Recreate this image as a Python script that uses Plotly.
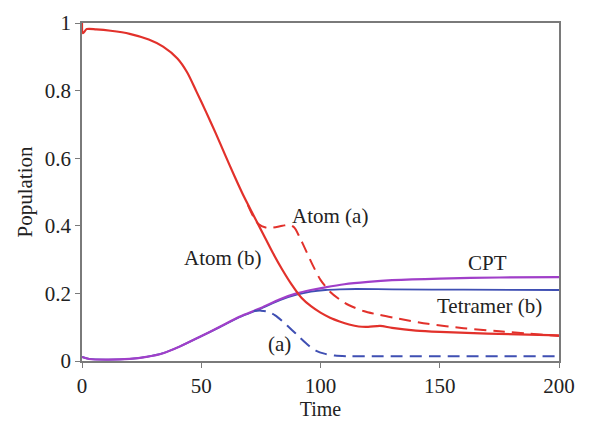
import plotly.graph_objects as go

# Atom (b) - red solid
t_atom_b = [0, 0.4, 2, 6, 12, 20, 28, 34, 40, 44, 48, 52, 56, 60, 64, 68, 72, 76, 80, 84, 88, 92, 96, 100, 104, 108, 112, 116, 120, 125, 130, 140, 150, 170, 200]
v_atom_b = [1.0, 0.97, 0.982, 0.981, 0.977, 0.968, 0.951, 0.93, 0.895, 0.855, 0.797, 0.737, 0.675, 0.61, 0.546, 0.485, 0.43, 0.375, 0.32, 0.27, 0.225, 0.187, 0.162, 0.143, 0.128, 0.117, 0.108, 0.102, 0.101, 0.104, 0.098, 0.09, 0.086, 0.081, 0.076]

# Atom (a) - red dashed
t_atom_a = [69.5, 72, 74, 77, 80, 84, 87, 89, 91, 94, 97, 100, 104, 108, 112, 118, 125, 133, 145, 160, 175, 200]
v_atom_a = [0.462, 0.425, 0.405, 0.395, 0.395, 0.40, 0.403, 0.395, 0.37, 0.325, 0.28, 0.24, 0.205, 0.182, 0.165, 0.148, 0.136, 0.125, 0.11, 0.097, 0.088, 0.074]

# CPT - purple
t_cpt = [0, 3, 10, 20, 27, 34, 41, 49, 58, 66, 75, 83, 90, 96, 102, 110, 120, 130, 150, 175, 200]
v_cpt = [0.012, 0.006, 0.004, 0.006, 0.012, 0.023, 0.043, 0.07, 0.102, 0.131, 0.157, 0.183, 0.2, 0.21, 0.218, 0.227, 0.234, 0.239, 0.244, 0.247, 0.248]

# Tetramer (b) - blue solid
t_tet_b = [0, 3, 10, 20, 27, 34, 41, 49, 58, 66, 75, 83, 90, 96, 102, 108, 115, 130, 160, 200]
v_tet_b = [0.012, 0.006, 0.004, 0.006, 0.012, 0.023, 0.043, 0.07, 0.101, 0.13, 0.155, 0.18, 0.196, 0.205, 0.21, 0.212, 0.213, 0.212, 0.211, 0.21]

# Tetramer (a) - blue dashed
t_tet_a = [72, 75, 78, 81, 84, 88, 91, 95, 98, 102, 106, 112, 125, 150, 200]
v_tet_a = [0.148, 0.149, 0.146, 0.135, 0.118, 0.092, 0.072, 0.046, 0.031, 0.021, 0.016, 0.014, 0.014, 0.014, 0.014]

x_ticks = [0, 50, 100, 150, 200]
y_ticks = [0, 0.2, 0.4, 0.6, 0.8, 1]
y_tick_labels = ["0", "0.2", "0.4", "0.6", "0.8", "1"]

labels = ["Atom (a)", "Atom (b)", "CPT", "Tetramer (b)", "(a)"]
label_x = [104, 59, 170, 171, 83]
label_y = [0.43, 0.305, 0.29, 0.163, 0.05]

RED = "#e2312b"
BLUE = "#3f4fb3"
PURPLE = "#a03fc9"
FONT = "Liberation Serif"
TXT = "#222222"

fig = go.Figure()
fig.add_trace(go.Scatter(x=t_tet_b, y=v_tet_b, mode="lines", line=dict(color=BLUE, width=1.8, shape="spline", smoothing=0.8), cliponaxis=False))
fig.add_trace(go.Scatter(x=t_cpt, y=v_cpt, mode="lines", line=dict(color=PURPLE, width=2.2, shape="spline", smoothing=0.8), cliponaxis=False))
fig.add_trace(go.Scatter(x=t_tet_a, y=v_tet_a, mode="lines", line=dict(color=BLUE, width=2, dash="12px,7px", shape="spline", smoothing=0.8)))
fig.add_trace(go.Scatter(x=t_atom_a, y=v_atom_a, mode="lines", line=dict(color=RED, width=2, dash="12px,7px", shape="spline", smoothing=0.8)))
fig.add_trace(go.Scatter(x=t_atom_b, y=v_atom_b, mode="lines", line=dict(color=RED, width=2.2, shape="spline", smoothing=0.8), cliponaxis=False))

for txt, lx, ly in zip(labels, label_x, label_y):
    fig.add_annotation(x=lx, y=ly, text=txt, showarrow=False, xanchor="center", yanchor="middle",
                       font=dict(family=FONT, size=21, color=TXT))

axis_common = dict(showgrid=False, zeroline=False, showline=True, linecolor="#7a7a7a", linewidth=1.5,
                   mirror=True, ticks="outside", ticklen=5, tickwidth=1.2, tickcolor="#7a7a7a",
                   tickfont=dict(family=FONT, size=21, color=TXT))

fig.update_xaxes(range=[0, 200], tickvals=x_ticks, title=dict(text="Time", standoff=2,
                 font=dict(family=FONT, size=20, color=TXT)), **axis_common)
fig.update_yaxes(range=[0, 1], tickvals=y_ticks, ticktext=y_tick_labels, title=dict(text="Population", standoff=6,
                 font=dict(family=FONT, size=21, color=TXT)), **axis_common)

fig.update_layout(width=596, height=425, margin=dict(l=82, r=37, t=11, b=62),
                  plot_bgcolor="white", paper_bgcolor="white", showlegend=False)

fig.write_html("out.html")
